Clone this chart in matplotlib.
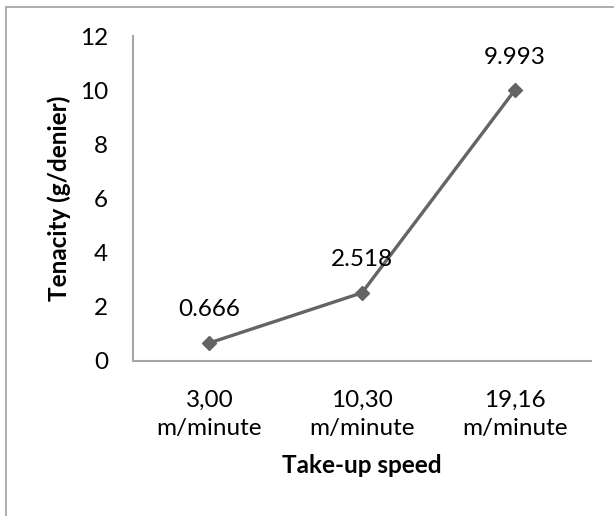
import matplotlib.pyplot as plt
from matplotlib.patches import Rectangle

speeds = ['3,00\nm/minute', '10,30\nm/minute', '19,16\nm/minute']
tenacity = [0.666, 2.518, 9.993]
value_labels = ['0.666', '2.518', '9.993']

plt.rcParams['font.family'] = ['Lato', 'DejaVu Sans']
fs = 17.5

f = plt.figure(figsize=(6.14, 5.16), dpi=100)
ax = f.add_axes([0.2166, 0.3004, 0.7459, 0.6298])

x = list(range(len(speeds)))
ax.plot(x, tenacity, color='#646464', lw=2.4, marker='D', ms=7.5,
        markerfacecolor='#646464', markeredgecolor='#646464')

# data labels above each point
for i in range(len(x)):
    ax.annotate(value_labels[i], (x[i], tenacity[i]), xytext=(0, 24),
                textcoords='offset points', ha='center', va='center',
                fontsize=fs, color='black')

ax.set_xlim(-0.5, len(speeds) - 0.5)
ax.set_ylim(0, 12)
ax.set_yticks(range(0, 13, 2))
ax.set_xticks(x)
ax.set_xticklabels(speeds, fontsize=fs, linespacing=1.38)
ax.tick_params(axis='y', labelsize=fs, length=0, pad=18)
ax.tick_params(axis='x', length=0, pad=21)

for s in ['top', 'right']:
    ax.spines[s].set_visible(False)
for s in ['left', 'bottom']:
    ax.spines[s].set_color('#a6a6a6')
    ax.spines[s].set_linewidth(1.5)

ax.set_xlabel('Take-up speed', fontsize=fs, fontweight='bold', labelpad=11)
ax.set_ylabel('Tenacity (g/denier)', fontsize=fs, fontweight='bold', labelpad=6)

# chart area border (cut off on right/bottom in the original)
f.patches.append(Rectangle((6 / 614, -0.1), 1.2, 1.1 - 7 / 516,
                           transform=f.transFigure, fill=False,
                           edgecolor='#a0a0a0', lw=1.2))

f.savefig('out.png', dpi=100)
